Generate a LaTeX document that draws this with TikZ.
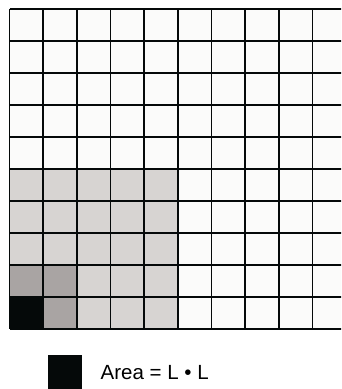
\documentclass[tikz,border=0pt]{standalone}
\usepackage{fontspec}
\setmainfont{Liberation Sans}
\definecolor{cellwhite}{HTML}{FBFBFA}
\definecolor{lightg}{HTML}{D7D4D2}
\definecolor{darkg}{HTML}{A9A4A3}
\definecolor{ink}{HTML}{050909}
\tikzset{gridline/.style={draw=ink,line width=1.5pt}}
\begin{document}
\begin{tikzpicture}[x=1pt,y=-1pt]
\useasboundingbox (0,0) rectangle (341,389);
\clip (0,0) rectangle (341,389);
\def\cw{33.67}
\def\ch{32}
% cells
\fill[cellwhite] (9.5,9) rectangle (346.2,329);
\fill[lightg] (9.5,169) rectangle ({9.5+5*\cw},329);
\fill[darkg] (9.5,265) rectangle ({9.5+2*\cw},329);
\fill[darkg] ({9.5+1*\cw},297) rectangle ({9.5+2*\cw},329);
\fill[ink] (9.5,297) rectangle ({9.5+\cw},329);
% grid lines
\foreach \i in {0,...,10} {
  \draw[gridline] ({9.5+\i*\cw},9) -- ({9.5+\i*\cw},329);
}
\foreach \j in {0,...,10} {
  \draw[gridline] (9.5,{9+\j*\ch}) -- (346.2,{9+\j*\ch});
}
% legend
\fill[ink] (47.5,355) rectangle (81.7,392);
\node[anchor=base west,inner sep=0pt,font=\fontsize{20.5}{24}\selectfont] (lbl) at (100.5,379) {Area = L • L};
\end{tikzpicture}
\end{document}
